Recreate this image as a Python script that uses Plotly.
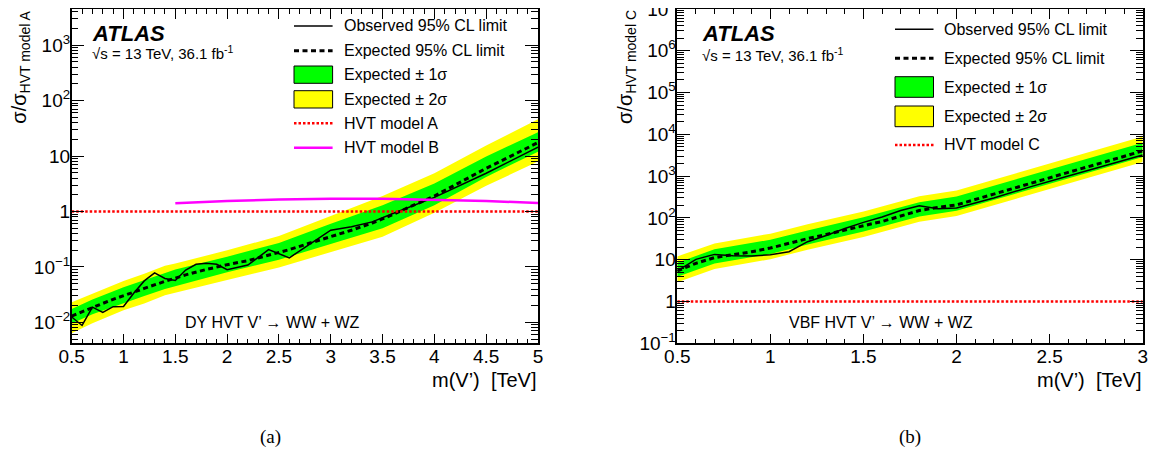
import plotly.graph_objects as go

# target picture is 1157 x 455; the page body adds an 8 px margin, so the figure
# is made 8 px smaller and every layout position is measured from (8, 8).
W_REF, H_REF = 1157, 455
OFF = 8
W, H = W_REF - OFF, H_REF - OFF
FONT = "Liberation Sans, Arial, Helvetica, sans-serif"

# ---------------- panel (a): DY HVT V' -> WW + WZ, normalised to HVT model A
mass_a_obs = [0.5, 0.6, 0.7, 0.8, 0.9, 1.0, 1.1, 1.2, 1.3, 1.4, 1.5, 1.6, 1.7, 1.8,
              1.9, 2.0, 2.2, 2.4, 2.6, 3.0, 3.2, 3.4, 3.6, 3.8, 4.0, 4.5, 5.0]
obs_a = [0.0125, 0.0088, 0.0188, 0.0152, 0.0192, 0.0194, 0.034, 0.056, 0.078, 0.062,
         0.057, 0.088, 0.112, 0.116, 0.112, 0.089, 0.108, 0.205, 0.146, 0.46, 0.53,
         0.65, 0.92, 1.28, 1.8, 4.9, 14.5]

mass_a_exp = [0.5, 0.6, 0.7, 0.8, 0.9, 1.0, 1.2, 1.4, 1.6, 1.8, 2.0, 2.2, 2.4, 2.6,
              2.8, 3.0, 3.2, 3.4, 3.6, 3.8, 4.0, 4.5, 5.0]
exp_a = [0.013, 0.0155, 0.019, 0.022, 0.026, 0.030, 0.041, 0.055, 0.072, 0.090, 0.11,
         0.13, 0.165, 0.205, 0.27, 0.35, 0.46, 0.62, 0.88, 1.3, 1.9, 6.0, 17.5]

mass_a_band = [0.5, 0.7, 1.0, 1.2, 1.4, 1.5, 2.0, 2.5, 3.0, 3.5, 4.0, 4.5, 5.0]
a_plus2 = [0.023, 0.033, 0.056, 0.075, 0.105, 0.115, 0.20, 0.36, 0.82, 1.9, 4.9, 15.5, 46]
a_plus1 = [0.0175, 0.026, 0.043, 0.058, 0.080, 0.090, 0.153, 0.27, 0.60, 1.3, 3.2, 9.8, 27]
a_minus1 = [0.0096, 0.0140, 0.022, 0.030, 0.040, 0.046, 0.080, 0.135, 0.26, 0.50, 1.3, 4.2, 12]
a_minus2 = [0.0064, 0.0097, 0.0165, 0.022, 0.031, 0.035, 0.058, 0.098, 0.185, 0.35, 0.95, 2.9, 8.0]

mass_hvtA = [0.5, 5.0]
hvtA = [1.0, 1.0]
mass_hvtB = [1.5, 2.0, 2.5, 3.0, 3.5, 4.0, 4.5, 5.0]
hvtB = [1.41, 1.55, 1.64, 1.70, 1.70, 1.64, 1.55, 1.42]

# ---------------- panel (b): VBF HVT V' -> WW + WZ, normalised to HVT model C
mass_c_obs = [0.5, 0.6, 0.7, 0.8, 0.9, 1.0, 1.1, 1.2, 1.3, 1.4, 1.5, 1.6, 1.7, 1.8,
              1.9, 2.0, 2.2, 2.4, 2.6, 2.8, 3.0]
obs_c = [5.4, 10.2, 13.4, 12.5, 12.2, 13.2, 15.5, 27, 38, 56, 78, 105, 150, 194,
         166, 172, 300, 560, 1000, 1800, 3200]

mass_c_exp = [0.5, 0.6, 0.7, 0.8, 0.9, 1.0, 1.1, 1.2, 1.3, 1.4, 1.5, 1.6, 1.7, 1.8,
              1.9, 2.0, 2.2, 2.4, 2.6, 2.8, 3.0]
exp_c = [5.4, 8.2, 11.2, 13.0, 15.5, 19.0, 25, 32, 40, 52, 65, 82, 112, 150,
         178, 205, 370, 680, 1230, 2200, 4000]

mass_c_band = [0.5, 0.7, 1.0, 1.2, 1.5, 1.8, 2.0, 2.5, 3.0]
c_plus2 = [12, 24.5, 42, 70, 143, 330, 450, 2000, 8800]
c_plus1 = [8.5, 17.7, 30, 50, 103, 237, 324, 1450, 6300]
c_minus1 = [3.9, 8.1, 13.7, 23, 47, 108, 148, 660, 2880]
c_minus2 = [2.9, 6.0, 10.3, 17.3, 35, 81, 111, 500, 2160]

mass_hvtC = [0.5, 3.0]
hvtC = [1.0, 1.0]

legend_labels_a = ["Observed 95% CL limit", "Expected 95% CL limit", "Expected \u00b1 1\u03c3",
                   "Expected \u00b1 2\u03c3", "HVT model A", "HVT model B"]
legend_labels_c = ["Observed 95% CL limit", "Expected 95% CL limit", "Expected \u00b1 1\u03c3",
                   "Expected \u00b1 2\u03c3", "HVT model C"]

GREEN = "#00ff00"
YELLOW = "#ffff00"
RED = "#ff0000"
MAGENTA = "#ff00ff"
EXP_DASH = "5px,3.5px"
DOT_DASH = "2.5px,2px"


def px(x):
    return min(max((x - OFF) / W, 0.0), 1.0)


def py(y):
    return min(max(1 - (y - OFF) / H, 0.0), 1.0)


fig = go.Figure()


def band(xa, ya, m, up, dn, color):
    fig.add_trace(go.Scatter(x=m + m[::-1], y=up + dn[::-1], fill="toself", fillcolor=color,
                             mode="lines", line=dict(width=0, color=color), xaxis=xa, yaxis=ya,
                             hoverinfo="skip", showlegend=False))


def line(xa, ya, m, v, color, width, dash="solid"):
    fig.add_trace(go.Scatter(x=m, y=v, mode="lines", line=dict(color=color, width=width, dash=dash),
                             xaxis=xa, yaxis=ya, showlegend=False))


# panel a
band("x", "y", mass_a_band, a_plus2, a_minus2, YELLOW)
band("x", "y", mass_a_band, a_plus1, a_minus1, GREEN)
line("x", "y", mass_a_exp, exp_a, "black", 3, EXP_DASH)
line("x", "y", mass_a_obs, obs_a, "black", 1.5)
line("x", "y", mass_hvtA, hvtA, RED, 2.5, DOT_DASH)
line("x", "y", mass_hvtB, hvtB, MAGENTA, 2.5)

# panel b
band("x2", "y2", mass_c_band, c_plus2, c_minus2, YELLOW)
band("x2", "y2", mass_c_band, c_plus1, c_minus1, GREEN)
line("x2", "y2", mass_c_exp, exp_c, "black", 3, EXP_DASH)
line("x2", "y2", mass_c_obs, obs_c, "black", 1.5)
line("x2", "y2", mass_hvtC, hvtC, RED, 2.5, DOT_DASH)


def sup(e):
    if e == 0:
        return "1"
    if e == 1:
        return "10"
    return "10<sup>%s</sup>" % (str(e).replace("-", "\u2212"))


def xaxis_cfg(domain, rng, anchor):
    return dict(domain=domain, range=rng, anchor=anchor, automargin=False, showline=True,
                linecolor="black", linewidth=1.5, mirror="allticks", ticks="inside",
                ticklen=10, tickwidth=1, tickcolor="black", tick0=0.5, dtick=0.5,
                showgrid=False, zeroline=False, ticklabelstandoff=-5,
                ticklabeloverflow="allow",
                tickfont=dict(family=FONT, size=19, color="black"),
                minor=dict(ticks="inside", ticklen=5, tickwidth=1, tickcolor="black",
                           dtick=0.1, tick0=0.5, showgrid=False))


def yaxis_cfg(domain, emin, emax, rng, anchor):
    major = [10.0 ** e for e in range(emin, emax + 1)]
    minor = [k * 10.0 ** e for e in range(emin - 1, emax + 1) for k in range(2, 10)]
    return dict(domain=domain, type="log", range=rng, anchor=anchor, automargin=False,
                showline=True, linecolor="black", linewidth=1.5, mirror="allticks",
                ticks="inside", ticklen=13, tickwidth=1, tickcolor="black", tickmode="array",
                tickvals=major, ticktext=[sup(e) for e in range(emin, emax + 1)],
                showgrid=False, zeroline=False, ticklabelstandoff=-4,
                ticklabeloverflow="allow",
                tickfont=dict(family=FONT, size=19, color="black"),
                minor=dict(ticks="inside", ticklen=7, tickwidth=1, tickcolor="black",
                           tickmode="array", tickvals=minor, showgrid=False))


TOP = 0.998
ya_dom = [py(343.3), TOP]
yb_dom = [py(343.3), TOP]
fig.update_layout(
    width=W, height=H, margin=dict(l=0, r=0, t=0, b=0, autoexpand=False),
    paper_bgcolor="white", plot_bgcolor="white", showlegend=False,
    font=dict(family=FONT, color="black"),
    xaxis=xaxis_cfg([px(71.7), px(538)], [0.5, 5.0], "y"),
    yaxis=yaxis_cfg(ya_dom, -2, 3, [-2.377, 3.654], "x"),
    xaxis2=xaxis_cfg([px(677.3), px(1142.7)], [0.5, 3.0], "y2"),
    yaxis2=yaxis_cfg(yb_dom, -1, 7, [-1.0002, 7.0002], "x2"),
)

ann = []
shapes = []


def text(x, y, t, size, xanchor="left", yanchor="middle", family=FONT, angle=0):
    ann.append(dict(x=px(x), y=py(y), xref="paper", yref="paper", text=t, showarrow=False,
                    xanchor=xanchor, yanchor=yanchor, textangle=angle,
                    font=dict(family=family, size=size, color="black")))


def legend(x0, x1, xt, rows, labels, styles):
    for (kind, val), yy, lab in zip(styles, rows, labels):
        if kind == "box":
            color, y0, y1 = val
            shapes.append(dict(type="rect", xref="paper", yref="paper", x0=px(x0), x1=px(x1),
                               y0=py(y1), y1=py(y0), fillcolor=color,
                               line=dict(color="black", width=1)))
        else:
            color, width, dash = val
            shapes.append(dict(type="line", xref="paper", yref="paper", x0=px(x0), x1=px(x1),
                               y0=py(yy), y1=py(yy), line=dict(color=color, width=width, dash=dash)))
        text(xt, yy, lab, 16)


# legend (a)
rows_a = [26, 50.7, 74.7, 99.3, 123.3, 147.7]
styles_a = [("line", ("black", 1.5, "solid")), ("line", ("black", 3, EXP_DASH)),
            ("box", (GREEN, 66, 83.3)), ("box", (YELLOW, 90.7, 108)),
            ("line", (RED, 2.5, DOT_DASH)), ("line", (MAGENTA, 2.5, "solid"))]
legend(294, 332.6, 341.6, rows_a, legend_labels_a, styles_a)

# legend (b)
rows_c = [29.3, 58.3, 87.3, 116.7, 145]
styles_c = [("line", ("black", 1.5, "solid")), ("line", ("black", 3, EXP_DASH)),
            ("box", (GREEN, 76.7, 97.3)), ("box", (YELLOW, 106, 126.7)),
            ("line", (RED, 2.5, DOT_DASH))]
legend(895, 933.5, 942.3, rows_c, legend_labels_c, styles_c)

lumi = "\u221as = 13 TeV, 36.1 fb<sup>-1</sup>"
text(90, 33.5, "<b><i>ATLAS</i></b>", 22)
text(90, 53, lumi, 15)
text(700, 34, "<b><i>ATLAS</i></b>", 22)
text(700, 54, lumi, 15)

text(272, 322, "DY HVT V\u2019 \u2192 WW + WZ", 16, xanchor="center")
text(881, 322, "VBF HVT V\u2019 \u2192 WW + WZ", 16, xanchor="center")

xtitle = "m(V\u2019)\u00a0 [TeV]"
text(538, 380, xtitle, 20, xanchor="right")
text(1142.7, 380, xtitle, 20, xanchor="right")

text(19.7, 67, "\u03c3/\u03c3<sub>HVT model A</sub>", 20, xanchor="center", angle=-90)
text(626, 67, "\u03c3/\u03c3<sub>HVT model C</sub>", 20, xanchor="center", angle=-90)

text(270, 437, "(a)", 19, xanchor="center", family="Liberation Serif, Times New Roman, serif")
text(910, 437, "(b)", 19, xanchor="center", family="Liberation Serif, Times New Roman, serif")

fig.update_layout(annotations=ann, shapes=shapes)
fig.write_html("out.html")
